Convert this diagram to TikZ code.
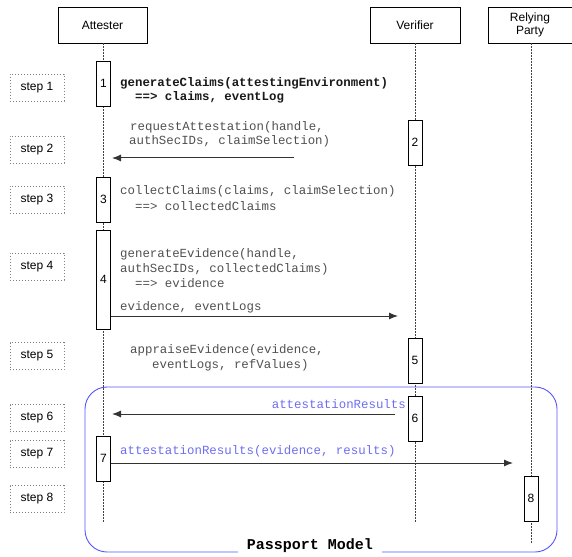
\documentclass[tikz,border=0pt]{standalone}
\usepackage{fontspec}
\setmainfont{Liberation Sans}
\setmonofont{Liberation Mono}
\usetikzlibrary{arrows.meta}

\definecolor{msgtext}{RGB}{80,80,80}
\definecolor{passblue}{RGB}{85,85,255}
\definecolor{resblue}{RGB}{110,110,240}

\tikzset{
  actor/.style={draw=black, fill=white, line width=0.9pt, minimum width=89pt, minimum height=36pt,
    inner sep=0pt, align=center, font=\fontsize{12}{14}\selectfont},
  activation/.style={draw=black, fill=white, line width=0.9pt, minimum width=14pt, inner sep=0pt,
    font=\fontsize{12}{14}\selectfont},
  stepbox/.style={draw=gray, line width=0.7pt, dash pattern=on 1pt off 2pt, minimum width=54pt,
    minimum height=27pt, inner sep=0pt, font=\fontsize{12}{14}\selectfont},
  lifeline/.style={draw=black!75, line width=0.8pt, dash pattern=on 1.5pt off 1.5pt},
  msg/.style={draw=black!80, line width=1pt, -{Latex[length=9pt,width=7pt]}},
  code/.style={anchor=base west, inner sep=0pt, text=msgtext, font=\fontsize{12.4}{15}\ttfamily},
  boldcode/.style={code, text=black!90, font=\fontsize{12.4}{15}\ttfamily\bfseries},
  rescode/.style={code, text=resblue},
}

\begin{document}
\begin{tikzpicture}[x=1pt,y=-1pt]
 \useasboundingbox (0,0) rectangle (572,556);

 % passport model frame
 \draw[passblue, line width=0.9pt, rounded corners=22pt] (85,387) rectangle (557,552);
 \node[fill=white, inner xsep=9pt, inner ysep=1pt, font=\fontsize{15}{18}\ttfamily\bfseries] (pm) at (310,546) {Passport Model};

 % actors
 \node[actor] (att) at (102.5,25) {Attester};
 \node[actor, minimum width=90pt] (ver) at (415,25) {Verifier};
 \node[actor, minimum width=84pt] (rp) at (530,25) {Relying\\[-1pt]Party};

 % lifelines
  \coordinate (attEnd) at (103.5,523);
  \coordinate (verEnd) at (415,523);
  \coordinate (rpEnd) at (531,543);
 \draw[lifeline] (att.south -| attEnd) -- (attEnd);
 \draw[lifeline] (ver.south -| verEnd) -- (verEnd);
 \draw[lifeline] (rp.south -| rpEnd) -- (rpEnd);

 % steps
 \node[stepbox] (step1) at (37,87.5) {step 1};
 \node[stepbox] (step2) at (37,150) {step 2};
 \node[stepbox] (step3) at (37,199.5) {step 3};
 \node[stepbox] (step4) at (37,266.5) {step 4};
 \node[stepbox] (step5) at (37,356) {step 5};
 \node[stepbox] (step6) at (37,418) {step 6};
 \node[stepbox] (step7) at (37,454) {step 7};
 \node[stepbox] (step8) at (37,499) {step 8};

 % activations
 \node[activation, minimum height=45pt] (act1) at (103.5,83.5) {1};
 \node[activation, minimum height=45pt] (act2) at (415,142.5) {2};
 \node[activation, minimum height=45pt] (act3) at (103.5,199.5) {3};
 \node[activation, minimum height=99pt] (act4) at (103.5,279.5) {4};
 \node[activation, minimum height=45pt] (act5) at (415,360.5) {5};
 \node[activation, minimum height=45pt] (act6) at (415,418.5) {6};
 \node[activation, minimum height=45pt] (act7) at (103.5,458.5) {7};
 \node[activation, minimum height=45pt] (act8) at (531,498.5) {8};

 %step 1
 \node[boldcode] (gen1) at (120,87) {generateClaims(attestingEnvironment)};
 \node[boldcode] (gen2) at (135,101) {==> claims, eventLog};

 %step 2
 \node[code] (req1) at (130,131) {requestAttestation(handle,};
 \node[code] (req2) at (129,145) {authSecIDs, claimSelection)};
  \coordinate (reqStart) at (294,158);
  \coordinate (attS2) at (112,158);
 \draw[msg] (reqStart) -- (attS2);

 %step 3
 \node[code] (col1) at (120,194) {collectClaims(claims, claimSelection)};
 \node[code] (col2) at (135,210) {==> collectedClaims};

 %step 4
 \node[code] (ev1) at (120,257) {generateEvidence(handle,};
 \node[code] (ev2) at (120,272) {authSecIDs, collectedClaims)};
 \node[code] (ev3) at (135,287) {==> evidence};
 \node[code] (ev4) at (120,310) {evidence, eventLogs};
  \coordinate (verS4) at (398,316);
 \draw[msg] (act4.east |- verS4) -- (verS4);

 %step 5
 \node[code] (app1) at (130,353) {appraiseEvidence(evidence,};
 \node[code] (app2) at (152,368) {eventLogs, refValues)};

 %step 6
 \node[rescode, anchor=base east] (res1) at (406,408) {attestationResults};
  \coordinate (resStart) at (395,414);
  \coordinate (attS6) at (112,414);
 \draw[msg] (resStart) -- (attS6);

 %step 7
 \node[rescode] (res2) at (120,454) {attestationResults(evidence, results)};
  \coordinate (rpS7) at (513,463);
 \draw[msg] (act7.east |- rpS7) -- (rpS7);
\end{tikzpicture}
\end{document}
